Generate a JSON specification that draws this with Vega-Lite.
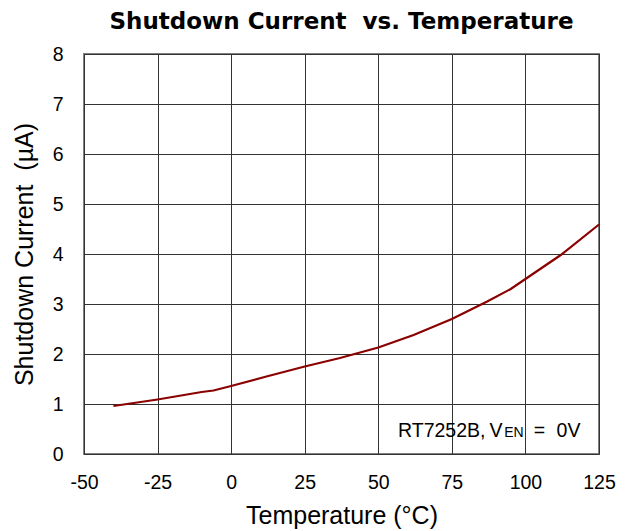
{
  "$schema": "https://vega.github.io/schema/vega-lite/v6.json",
  "width": 515,
  "height": 400,
  "autosize": {"type": "none"},
  "padding": {"left": 84, "top": 54, "right": 36, "bottom": 77},
  "background": "white",
  "title": {
    "text": "Shutdown Current\u00a0 vs. Temperature",
    "font": "DejaVu Sans",
    "fontSize": 23,
    "fontWeight": "bold",
    "color": "black",
    "anchor": "middle",
    "offset": 10
  },
  "config": {
    "view": {"stroke": "#808080", "strokeWidth": 2},
    "axis": {
      "labelFont": "Liberation Sans",
      "titleFont": "Liberation Sans",
      "labelFontSize": 19.5,
      "titleFontSize": 25,
      "titleFontWeight": "normal",
      "labelColor": "black",
      "titleColor": "black",
      "labelFlush": false,
      "gridColor": "#333333",
      "gridWidth": 1,
      "gridOpacity": 1,
      "domain": false,
      "tickColor": "#808080",
      "tickSize": 0
    }
  },
  "datasets": {
    "curve": [
      {"t": -40, "i": 0.96},
      {"t": -25, "i": 1.09},
      {"t": -10, "i": 1.24},
      {"t": -6, "i": 1.27},
      {"t": 0, "i": 1.36},
      {"t": 12, "i": 1.55},
      {"t": 25, "i": 1.75},
      {"t": 37, "i": 1.92},
      {"t": 50, "i": 2.13},
      {"t": 62, "i": 2.38},
      {"t": 75, "i": 2.70},
      {"t": 87, "i": 3.05},
      {"t": 95, "i": 3.30},
      {"t": 100, "i": 3.50},
      {"t": 112, "i": 3.98},
      {"t": 125, "i": 4.59}
    ],
    "note": [
      {"t": 56.7, "i": 0.35, "label": "RT7252B,", "part": "a"},
      {"t": 87.8, "i": 0.35, "label": "V", "part": "a"},
      {"t": 92.8, "i": 0.35, "label": "EN", "part": "b"},
      {"t": 102.8, "i": 0.35, "label": "=", "part": "a"},
      {"t": 110.6, "i": 0.35, "label": "0V", "part": "a"}
    ]
  },
  "layer": [
    {
      "data": {"name": "curve"},
      "mark": {"type": "line", "color": "#8B0000", "strokeWidth": 2.2},
      "encoding": {
        "x": {
          "field": "t",
          "type": "quantitative",
          "scale": {"domain": [-50, 125], "nice": false},
          "axis": {
            "values": [-50, -25, 0, 25, 50, 75, 100, 125],
            "labelExpr": "datum.value < 0 ? '-' + abs(datum.value) : '' + datum.value",
            "title": "Temperature (°C)",
            "labelPadding": 19,
            "titlePadding": 12
          }
        },
        "y": {
          "field": "i",
          "type": "quantitative",
          "scale": {"domain": [0, 8], "nice": false},
          "axis": {
            "values": [0, 1, 2, 3, 4, 5, 6, 7, 8],
            "title": "Shutdown Current\u00a0 (µA)",
            "labelPadding": 21,
            "titlePadding": 15
          }
        }
      }
    },
    {
      "data": {"name": "note"},
      "transform": [{"filter": "datum.part === 'a'"}],
      "mark": {"type": "text", "align": "left", "baseline": "alphabetic", "font": "Liberation Sans", "fontSize": 19.5, "color": "black"},
      "encoding": {
        "x": {"field": "t", "type": "quantitative"},
        "y": {"field": "i", "type": "quantitative"},
        "text": {"field": "label"}
      }
    },
    {
      "data": {"name": "note"},
      "transform": [{"filter": "datum.part === 'b'"}],
      "mark": {"type": "text", "align": "left", "baseline": "alphabetic", "font": "Liberation Sans", "fontSize": 14, "color": "black"},
      "encoding": {
        "x": {"field": "t", "type": "quantitative"},
        "y": {"field": "i", "type": "quantitative"},
        "text": {"field": "label"}
      }
    }
  ]
}
